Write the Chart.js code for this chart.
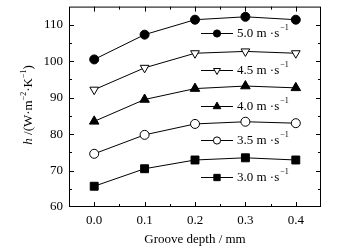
<!DOCTYPE html>
<html>
<head>
<meta charset="utf-8">
<script src="https://cdn.jsdelivr.net/npm/chart.js@4"></script>
<style>
  html, body { margin: 0; padding: 0; background: #fff; }
  canvas { display: block; }
</style>
</head>
<body>
<canvas id="grooveChart" width="352" height="250"></canvas>
<script>
// groove depth (mm) and heat transfer coefficient for each air velocity
var depths = [0.0, 0.1, 0.2, 0.3, 0.4];
var velocities = ['5.0', '4.5', '4.0', '3.5', '3.0'];
var h50 = [100.5, 107.3, 111.4, 112.2, 111.4];
var h45 = [92.2, 98.2, 102.2, 102.7, 102.2];
var h40 = [83.5, 89.5, 92.5, 93.2, 92.7];
var h35 = [74.6, 79.8, 82.8, 83.4, 83.0];
var h30 = [65.7, 70.5, 72.9, 73.5, 72.9];
var xTicks = [0.0, 0.1, 0.2, 0.3, 0.4];
var yTicks = [60, 70, 80, 90, 100, 110];

var FONT = '"Liberation Serif", "Times New Roman", serif';

function pts(vals) {
  return vals.map(function (v, i) { return { x: depths[i], y: v }; });
}

var markers = [
  { pointStyle: 'circle', radius: 4.5, rotation: 0, fill: '#000' },
  { pointStyle: 'triangle', radius: 5, rotation: 180, fill: '#fff' },
  { pointStyle: 'triangle', radius: 5.5, rotation: 0, fill: '#000' },
  { pointStyle: 'circle', radius: 4.5, rotation: 0, fill: '#fff' },
  { pointStyle: 'rect', radius: 5.6, rotation: 0, fill: '#000' }
];
var series = [h50, h45, h40, h35, h30];

var datasets = series.map(function (vals, i) {
  var m = markers[i];
  return {
    label: velocities[i] + ' m ·s-1',
    data: pts(vals),
    borderColor: '#000',
    borderWidth: 1,
    pointStyle: m.pointStyle,
    pointRotation: m.rotation,
    pointRadius: m.radius,
    pointBackgroundColor: m.fill,
    pointBorderColor: '#000',
    pointBorderWidth: 1,
    tension: 0
  };
});

// legend rows sit in the gaps between the curves
var legendY = [33, 70, 106, 140, 177];

var framePlugin = {
  id: 'frame',
  afterDraw: function (chart) {
    var ctx = chart.ctx;
    var a = chart.chartArea;
    var xs = chart.scales.x, ys = chart.scales.y;
    ctx.save();
    ctx.strokeStyle = '#000';
    ctx.lineWidth = 1;
    ctx.strokeRect(a.left + 0.5, a.top + 0.5, a.right - a.left - 1, a.bottom - a.top - 1);

    ctx.beginPath();
    // x ticks, bottom and top, inward
    for (var v = -0.05; v <= 0.451; v += 0.05) {
      var px = Math.round(xs.getPixelForValue(v)) + 0.5;
      var major = Math.abs(Math.round(v * 10) - v * 10) < 1e-6;
      var len = major ? 5 : 3;
      if (px <= a.left + 1 || px >= a.right - 1) continue;
      ctx.moveTo(px, a.bottom); ctx.lineTo(px, a.bottom - len);
      ctx.moveTo(px, a.top); ctx.lineTo(px, a.top + len);
    }
    // y ticks, left and right, inward
    for (var t = 60; t <= 115; t += 5) {
      var py = Math.round(ys.getPixelForValue(t)) + 0.5;
      var l = (t % 10 === 0) ? 5 : 3;
      if (py <= a.top + 1 || py >= a.bottom - 1) continue;
      ctx.moveTo(a.left, py); ctx.lineTo(a.left + l, py);
      ctx.moveTo(a.right, py); ctx.lineTo(a.right - l, py);
    }
    ctx.stroke();

    // legend
    chart.data.datasets.forEach(function (ds, i) {
      var y = legendY[i];
      ctx.beginPath();
      ctx.moveTo(201, y + 0.5); ctx.lineTo(233, y + 0.5);
      ctx.stroke();
      var m = markers[i];
      ctx.fillStyle = m.fill;
      Chart.helpers.drawPoint(ctx, {
        pointStyle: m.pointStyle, radius: m.radius * 0.8,
        rotation: m.rotation, borderWidth: 1
      }, 217, y + 0.5);
      ctx.fillStyle = '#000';
      ctx.font = '13px ' + FONT;
      ctx.textBaseline = 'middle';
      ctx.textAlign = 'left';
      var txt = velocities[i] + ' m \u00b7s';
      ctx.fillText(txt, 237, y + 1);
      var w = ctx.measureText(txt).width;
      ctx.font = '8px ' + FONT;
      ctx.fillText('\u22121', 237 + w + 1, y - 5);
    });

    // y axis title with italic h and superscripts
    var parts = [
      { t: 'h', f: 'italic 13px ' + FONT, dy: 0 },
      { t: ' /(W\u00b7m', f: '13px ' + FONT, dy: 0 },
      { t: '\u22122', f: '8px ' + FONT, dy: -5 },
      { t: '\u00b7K', f: '13px ' + FONT, dy: 0 },
      { t: '\u22121', f: '8px ' + FONT, dy: -5 },
      { t: ')', f: '13px ' + FONT, dy: 0 }
    ];
    var total = 0;
    parts.forEach(function (p) { ctx.font = p.f; p.w = ctx.measureText(p.t).width; total += p.w; });
    ctx.translate(29, 105);
    ctx.rotate(-Math.PI / 2);
    ctx.textBaseline = 'middle';
    var x0 = -total / 2;
    parts.forEach(function (p) {
      ctx.font = p.f;
      ctx.fillText(p.t, x0, p.dy);
      x0 += p.w;
    });
    ctx.restore();
  }
};

new Chart(document.getElementById('grooveChart').getContext('2d'), {
  type: 'line',
  data: { datasets: datasets },
  options: {
    responsive: false,
    animation: false,
    layout: { padding: { left: 0, right: 31, top: 4, bottom: 0 } },
    plugins: { legend: { display: false }, tooltip: { enabled: false } },
    scales: {
      x: {
        type: 'linear',
        min: -0.05,
        max: 0.45,
        afterBuildTicks: function (s) { s.ticks = xTicks.map(function (v) { return { value: v }; }); },
        afterFit: function (s) { s.height = 43; s.paddingLeft = 0; s.paddingRight = 0; },
        grid: { display: false, drawTicks: false },
        border: { display: false },
        ticks: {
          color: '#000',
          padding: 6,
          font: { family: FONT, size: 13 },
          callback: function (v) { return Number(v).toFixed(1); }
        },
        title: {
          display: true,
          text: 'Groove depth / mm',
          color: '#000',
          font: { family: FONT, size: 13 },
          padding: { top: 4, bottom: 3 }
        }
      },
      y: {
        min: 60,
        max: 115,
        afterBuildTicks: function (s) { s.ticks = yTicks.map(function (v) { return { value: v }; }); },
        afterFit: function (s) { s.width = 69; s.paddingTop = 0; s.paddingBottom = 0; },
        grid: { display: false, drawTicks: false },
        border: { display: false },
        ticks: {
          color: '#000',
          padding: 6,
          font: { family: FONT, size: 13 }
        }
      }
    }
  },
  plugins: [framePlugin]
});
</script>
</body>
</html>
